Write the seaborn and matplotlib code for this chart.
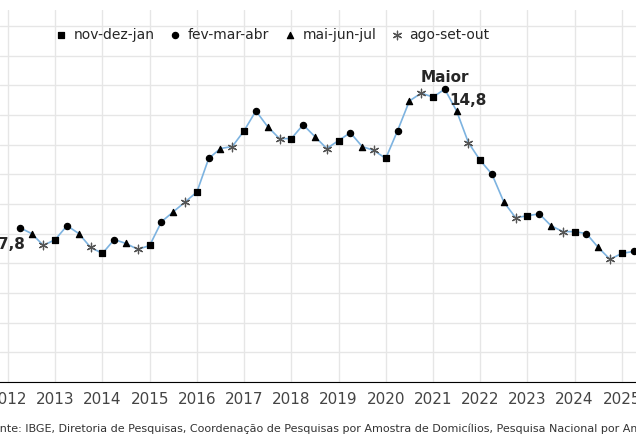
import numpy as np
import pandas as pd
import matplotlib
matplotlib.use("Agg")
import matplotlib.pyplot as plt
import seaborn as sns

# trimestres moveis, taxa de desocupacao (%)
trimestre = [2012.25 + 0.25 * i for i in range(53)]
taxa = [7.8, 7.5, 6.9, 7.2, 7.9, 7.5, 6.8, 6.5, 7.2, 7.0, 6.7, 6.9,
        8.1, 8.6, 9.1, 9.6, 11.3, 11.8, 11.9, 12.7, 13.7, 12.9, 12.3, 12.3,
        13.0, 12.4, 11.8, 12.2, 12.6, 11.9, 11.7, 11.3, 12.7, 14.2, 14.6, 14.4,
        14.8, 13.7, 12.1, 11.2, 10.5, 9.1, 8.3, 8.4, 8.5, 7.9, 7.6, 7.6,
        7.5, 6.8, 6.2, 6.5, 6.6]
tipos = ["fev-mar-abr", "mai-jun-jul", "ago-set-out", "nov-dez-jan"]
ordem = ["nov-dez-jan", "fev-mar-abr", "mai-jun-jul", "ago-set-out"]

df = pd.DataFrame({"t": trimestre, "taxa": taxa})
df["tri"] = [tipos[i % 4] for i in range(len(df))]

sns.set_style("white")
fig = plt.figure(figsize=(6.36, 4.46), dpi=100)
ax = fig.add_axes([0, 64 / 446, 1, 372 / 446])

sns.lineplot(data=df, x="t", y="taxa", color="#7db3e0", lw=1.2, ax=ax, zorder=2)
marcas = {"nov-dez-jan": "s", "fev-mar-abr": "o", "mai-jun-jul": "^", "ago-set-out": (6, 2, 0)}
cores = {"nov-dez-jan": "black", "fev-mar-abr": "black", "mai-jun-jul": "black", "ago-set-out": "#555555"}
for k in ordem:
    sub = df[df.tri == k]
    ax.scatter(sub.t, sub.taxa, marker=marcas[k], s=20 if k != "ago-set-out" else 38,
               color=cores[k], linewidths=0.9, zorder=3, label=k)

ax.set_xlim(2011.83, 2025.3)
ax.set_ylim(0, 18.8)
ax.set_xticks(range(2012, 2026))
ax.set_yticks(np.arange(0, 18.1, 1.5))
ax.set_yticklabels([])
ax.grid(True, color="#e6e6e6", lw=1)
ax.set_axisbelow(True)
for s in ["top", "right", "left"]:
    ax.spines[s].set_visible(False)
ax.spines["bottom"].set_color("black")
ax.tick_params(axis="x", length=4, color="black", labelsize=11, labelcolor="#444444")
ax.tick_params(axis="y", length=0)
ax.set_xlabel("")
ax.set_ylabel("")

ax.text(2012.36, 7.35, "7,8", fontsize=11, fontweight="bold", ha="right", va="top")
ax.text(2021.25, 15.0, "Maior", fontsize=11, fontweight="bold", ha="center", va="bottom")
ax.text(2021.35, 14.6, "14,8", fontsize=11, fontweight="bold", ha="left", va="top")

ax.legend(loc="upper left", bbox_to_anchor=(0.065, 0.985), ncol=4, frameon=False,
          fontsize=10, handletextpad=0.4, columnspacing=1.0, handlelength=1.0)

fig.text(-0.02, 12 / 446, "Fonte: IBGE, Diretoria de Pesquisas, Coordenação de Pesquisas por Amostra de Domicílios, "
         "Pesquisa Nacional por Amostra de Domicílios Contínua",
         fontsize=8, color="#333333", ha="left", va="bottom")
fig.savefig("out.png", dpi=100)
